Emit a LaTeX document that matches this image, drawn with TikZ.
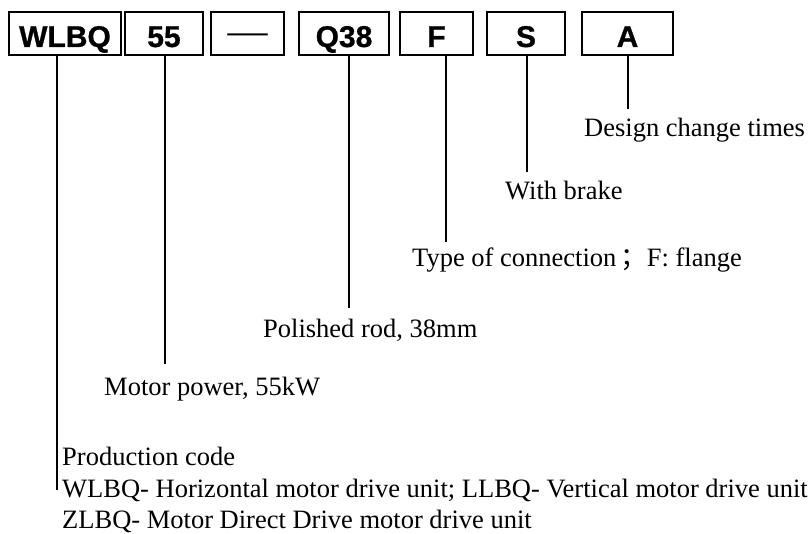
\documentclass[tikz,border=0pt]{standalone}
\usepackage{fontspec}
\setmainfont{Liberation Serif}
\newfontfamily\codefont[BoldFeatures={FakeBold=0.8}]{Liberation Sans}
\newfontfamily\cjk{Noto Sans CJK SC}

\tikzset{
  codebox/.style={draw, line width=1.8pt, inner sep=0pt, minimum height=43pt,
    text height=27pt, text depth=0pt,
    font=\codefont\bfseries\fontsize{30}{30}\selectfont},
  lead/.style={line width=1.5pt},
  note/.style={anchor=base west, inner sep=0pt, font=\fontsize{26.5}{31}\selectfont},
}

\begin{document}
\begin{tikzpicture}[x=1pt, y=-1pt]
\useasboundingbox (0,0) rectangle (809,534);

% code boxes
\node[codebox, minimum width=112pt] (wlbq) at (65,33.5) {WLBQ};
\node[codebox, minimum width=78pt]  (pow)  at (164,33.5) {55};
\node[codebox, minimum width=73pt]  (dash) at (247.5,33.5) {\mdseries\raisebox{4pt}{\scalebox{1.35}[1]{—}}};
\node[codebox, minimum width=90pt]  (rod)  at (344,33.5) {Q38};
\node[codebox, minimum width=73pt]  (conn) at (436.5,33.5) {F};
\node[codebox, minimum width=78pt]  (brk)  at (526,33.5) {S};
\node[codebox, minimum width=91pt]  (rev)  at (627.5,33.5) {A\hspace{21pt}};

% free ends of the leaders
\coordinate (rev-end)  at (628,109);
\coordinate (brk-end)  at (527,172);
\coordinate (conn-end) at (446,242);
\coordinate (rod-end)  at (349,308);
\coordinate (pow-end)  at (165,364);
\coordinate (wlbq-end) at (57,490);

\draw[lead] (rev.south -| rev-end)   -- (rev-end);
\draw[lead] (brk.south -| brk-end)   -- (brk-end);
\draw[lead] (conn.south -| conn-end) -- (conn-end);
\draw[lead] (rod.south -| rod-end)   -- (rod-end);
\draw[lead] (pow.south -| pow-end)   -- (pow-end);
\draw[lead] (wlbq.south -| wlbq-end) -- (wlbq-end);

% explanations
\node[note] (rev-txt)  at (584,137) {Design change times};
\node[note] (brk-txt)  at (505,200) {With brake};
\node[note] (conn-txt) at (412,267) {Type of connection\kern0.15em{\cjk ；}F: flange};
\node[note] (rod-txt)  at (263,338) {Polished rod, 38mm};
\node[note] (pow-txt)  at (104,396) {Motor power, 55kW};
\node[note] (wlbq-txt) at (62,466)  {Production code};
\node[note] (wlbq-l2)  at (62,497)  {WLBQ- Horizontal motor drive unit; LLBQ- Vertical motor drive unit};
\node[note] (wlbq-l3)  at (62,528)  {ZLBQ- Motor Direct Drive motor drive unit};

\end{tikzpicture}
\end{document}
